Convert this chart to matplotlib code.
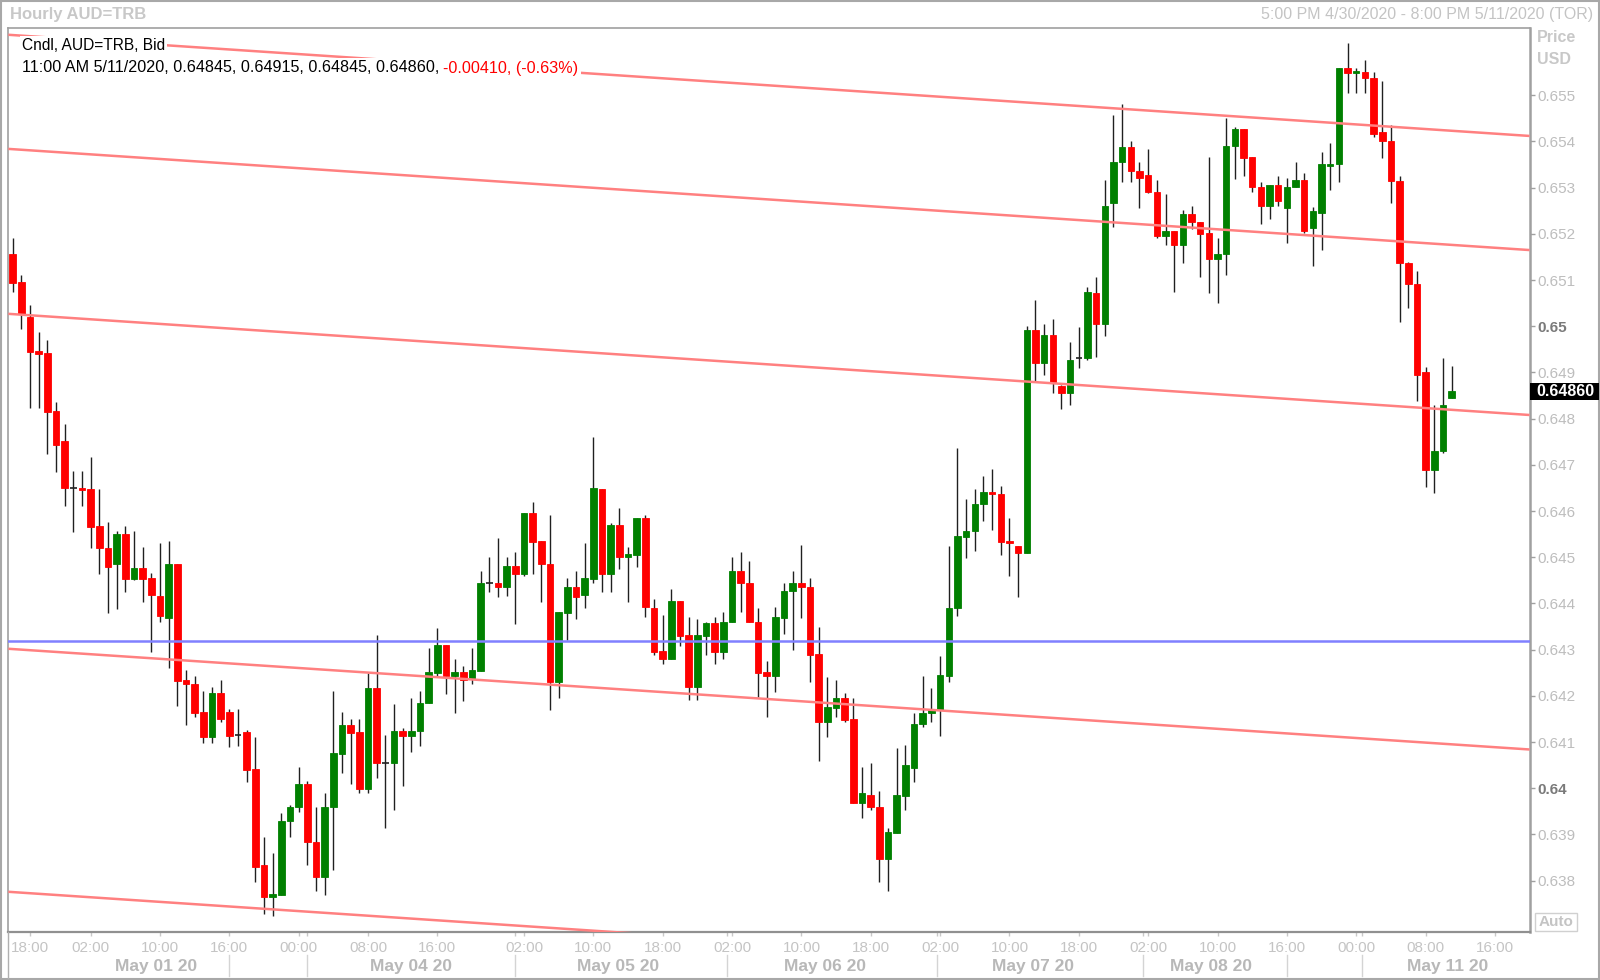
#!/usr/bin/env python3
# -*- coding: utf-8 -*-

"""Hourly AUD=TRB candlestick chart with channel lines (Reuters style)."""

import matplotlib
matplotlib.use("Agg")
import matplotlib.pyplot as plt
from matplotlib.patches import Rectangle
from matplotlib.transforms import blended_transform_factory

plt.rcParams["font.family"] = ["Liberation Sans", "DejaVu Sans"]

# ============================
# Data (hourly bars, index 0 = first bar on screen)
# ============================
OPENS = [
    0.65156, 0.65096, 0.65020, 0.64946, 0.64942, 0.64816, 0.64752, 0.64651, 0.64651, 0.64647,
    0.64567, 0.64521, 0.64485, 0.64551, 0.64454, 0.64476, 0.64455, 0.64416, 0.64369, 0.64486,
    0.64234, 0.64226, 0.64165, 0.64110, 0.64206, 0.64165, 0.64115, 0.64121, 0.64041, 0.63834,
    0.63764, 0.63769, 0.63929, 0.63959, 0.64009, 0.63884, 0.63809, 0.63959, 0.64074, 0.64136,
    0.64121, 0.63998, 0.64217, 0.64055, 0.64054, 0.64125, 0.64114, 0.64123, 0.64184, 0.64249,
    0.64310, 0.64242, 0.64251, 0.64238, 0.64254, 0.64444, 0.64444, 0.64435, 0.64481, 0.64464,
    0.64595, 0.64536, 0.64486, 0.64229, 0.64380, 0.64436, 0.64418, 0.64453, 0.64647, 0.64464,
    0.64570, 0.64500, 0.64505, 0.64584, 0.64391, 0.64297, 0.64279, 0.64405, 0.64332, 0.64219,
    0.64330, 0.64357, 0.64296, 0.64359, 0.64471, 0.64445, 0.64361, 0.64251, 0.64244, 0.64369,
    0.64426, 0.64445, 0.64436, 0.64290, 0.64144, 0.64173, 0.64195, 0.64150, 0.63969, 0.63986,
    0.63960, 0.63847, 0.63903, 0.63983, 0.64043, 0.64139, 0.64164, 0.64170, 0.64244, 0.64390,
    0.64545, 0.64556, 0.64615, 0.64641, 0.64637, 0.64536, 0.64525, 0.64510, 0.64992, 0.64920,
    0.64981, 0.64871, 0.64856, 0.64931, 0.64931, 0.65071, 0.65004, 0.65266, 0.65355, 0.65387,
    0.65337, 0.65328, 0.65291, 0.65196, 0.65207, 0.65176, 0.65242, 0.65225, 0.65201, 0.65145,
    0.65156, 0.65390, 0.65426, 0.65366, 0.65302, 0.65260, 0.65306, 0.65255, 0.65301, 0.65317,
    0.65212, 0.65246, 0.65347, 0.65351, 0.65559, 0.65548, 0.65551, 0.65537, 0.65421, 0.65401,
    0.65315, 0.65136, 0.65092, 0.64900, 0.64689, 0.64730, 0.64845,
]
HIGHS = [
    0.65191, 0.65111, 0.65047, 0.64988, 0.64971, 0.64837, 0.64788, 0.64686, 0.64686, 0.64717,
    0.64647, 0.64576, 0.64556, 0.64567, 0.64556, 0.64522, 0.64466, 0.64532, 0.64536, 0.64486,
    0.64255, 0.64242, 0.64211, 0.64220, 0.64234, 0.64171, 0.64171, 0.64126, 0.64110, 0.63894,
    0.63859, 0.63946, 0.63964, 0.64046, 0.64016, 0.63960, 0.63989, 0.64211, 0.64165, 0.64150,
    0.64150, 0.64249, 0.64332, 0.64115, 0.64182, 0.64130, 0.64195, 0.64211, 0.64304, 0.64346,
    0.64310, 0.64280, 0.64265, 0.64304, 0.64471, 0.64501, 0.64542, 0.64501, 0.64511, 0.64595,
    0.64620, 0.64536, 0.64592, 0.64382, 0.64455, 0.64471, 0.64532, 0.64761, 0.64647, 0.64575,
    0.64606, 0.64522, 0.64584, 0.64592, 0.64409, 0.64375, 0.64431, 0.64405, 0.64371, 0.64367,
    0.64359, 0.64371, 0.64381, 0.64501, 0.64511, 0.64491, 0.64391, 0.64276, 0.64392, 0.64445,
    0.64471, 0.64527, 0.64455, 0.64350, 0.64240, 0.64234, 0.64206, 0.64195, 0.64046, 0.64055,
    0.63995, 0.63913, 0.64087, 0.64094, 0.64164, 0.64242, 0.64217, 0.64286, 0.64525, 0.64736,
    0.64626, 0.64647, 0.64676, 0.64691, 0.64655, 0.64584, 0.64525, 0.65001, 0.65057, 0.65006,
    0.65016, 0.64873, 0.64967, 0.64998, 0.65084, 0.65106, 0.65317, 0.65457, 0.65481, 0.65401,
    0.65356, 0.65383, 0.65317, 0.65286, 0.65207, 0.65252, 0.65261, 0.65226, 0.65366, 0.65191,
    0.65450, 0.65432, 0.65426, 0.65366, 0.65312, 0.65306, 0.65326, 0.65320, 0.65356, 0.65331,
    0.65258, 0.65377, 0.65397, 0.65559, 0.65613, 0.65559, 0.65576, 0.65551, 0.65532, 0.65436,
    0.65326, 0.65140, 0.65120, 0.64911, 0.64830, 0.64931, 0.64915,
]
LOWS = [
    0.65074, 0.64995, 0.64824, 0.64824, 0.64723, 0.64684, 0.64610, 0.64554, 0.64610, 0.64520,
    0.64464, 0.64379, 0.64389, 0.64425, 0.64451, 0.64404, 0.64295, 0.64360, 0.64260, 0.64179,
    0.64138, 0.64155, 0.64099, 0.64099, 0.64144, 0.64089, 0.64092, 0.64014, 0.63798, 0.63728,
    0.63724, 0.63769, 0.63894, 0.63949, 0.63833, 0.63778, 0.63769, 0.63823, 0.64034, 0.64009,
    0.63989, 0.63989, 0.64023, 0.63913, 0.63953, 0.64004, 0.64078, 0.64092, 0.64184, 0.64243,
    0.64204, 0.64162, 0.64190, 0.64225, 0.64254, 0.64424, 0.64415, 0.64417, 0.64355, 0.64460,
    0.64464, 0.64404, 0.64170, 0.64195, 0.64321, 0.64366, 0.64390, 0.64444, 0.64424, 0.64424,
    0.64474, 0.64404, 0.64478, 0.64370, 0.64289, 0.64268, 0.64279, 0.64309, 0.64191, 0.64191,
    0.64289, 0.64268, 0.64279, 0.64359, 0.64382, 0.64359, 0.64197, 0.64155, 0.64208, 0.64333,
    0.64299, 0.64369, 0.64230, 0.64058, 0.64110, 0.64155, 0.64144, 0.63969, 0.63935, 0.63953,
    0.63798, 0.63778, 0.63903, 0.63952, 0.64014, 0.64133, 0.64144, 0.64113, 0.64229, 0.64374,
    0.64499, 0.64514, 0.64579, 0.64559, 0.64505, 0.64460, 0.64415, 0.64510, 0.64882, 0.64895,
    0.64856, 0.64820, 0.64830, 0.64909, 0.64926, 0.64934, 0.64980, 0.65214, 0.65312, 0.65312,
    0.65255, 0.65288, 0.65191, 0.65176, 0.65075, 0.65136, 0.65210, 0.65106, 0.65071, 0.65050,
    0.65110, 0.65318, 0.65326, 0.65291, 0.65222, 0.65232, 0.65260, 0.65180, 0.65301, 0.65201,
    0.65131, 0.65165, 0.65295, 0.65312, 0.65504, 0.65504, 0.65504, 0.65410, 0.65365, 0.65266,
    0.65010, 0.65039, 0.64839, 0.64653, 0.64639, 0.64725, 0.64845,
]
CLOSES = [
    0.65094, 0.65027, 0.64945, 0.64941, 0.64814, 0.64744, 0.64650, 0.64651, 0.64645, 0.64565,
    0.64520, 0.64479, 0.64551, 0.64454, 0.64476, 0.64454, 0.64419, 0.64373, 0.64486, 0.64233,
    0.64225, 0.64164, 0.64110, 0.64206, 0.64149, 0.64113, 0.64115, 0.64040, 0.63829, 0.63764,
    0.63771, 0.63929, 0.63960, 0.64009, 0.63883, 0.63809, 0.63960, 0.64076, 0.64136, 0.64120,
    0.63998, 0.64217, 0.64054, 0.64055, 0.64125, 0.64114, 0.64125, 0.64184, 0.64251, 0.64310,
    0.64243, 0.64251, 0.64234, 0.64256, 0.64444, 0.64444, 0.64435, 0.64481, 0.64464, 0.64595,
    0.64534, 0.64486, 0.64229, 0.64382, 0.64436, 0.64415, 0.64455, 0.64651, 0.64464, 0.64570,
    0.64500, 0.64507, 0.64584, 0.64393, 0.64296, 0.64279, 0.64405, 0.64330, 0.64219, 0.64332,
    0.64357, 0.64296, 0.64361, 0.64471, 0.64444, 0.64359, 0.64249, 0.64244, 0.64370, 0.64427,
    0.64445, 0.64436, 0.64289, 0.64144, 0.64175, 0.64195, 0.64148, 0.63969, 0.63989, 0.63959,
    0.63847, 0.63905, 0.63986, 0.64051, 0.64139, 0.64164, 0.64170, 0.64245, 0.64391, 0.64546,
    0.64557, 0.64615, 0.64641, 0.64636, 0.64534, 0.64530, 0.64510, 0.64992, 0.64920, 0.64981,
    0.64879, 0.64856, 0.64927, 0.64931, 0.65075, 0.65004, 0.65261, 0.65356, 0.65387, 0.65336,
    0.65320, 0.65291, 0.65196, 0.65207, 0.65176, 0.65242, 0.65225, 0.65200, 0.65145, 0.65156,
    0.65390, 0.65426, 0.65365, 0.65302, 0.65260, 0.65306, 0.65271, 0.65302, 0.65317, 0.65207,
    0.65250, 0.65351, 0.65351, 0.65559, 0.65548, 0.65551, 0.65537, 0.65416, 0.65400, 0.65315,
    0.65136, 0.65091, 0.64895, 0.64689, 0.64731, 0.64830, 0.64860,
]
PREV_CLOSE = 0.65270  # reference close for the change figure in the legend

# Channel lines (start/end price) over bar index CHANNEL_X
CHANNEL_X = [-0.5, 175.0]
CHANNEL_LINES = [
    (0.65631, 0.65412),
    (0.65384, 0.65165),
    (0.65027, 0.64808),
    (0.64302, 0.64084),
    (0.63776, 0.63557),
]
HLINE_LEVEL = 0.64319

# X axis labels
TICK_POS = [2, 9, 17, 25, 33, 41, 49, 59, 67, 75, 83, 91, 99, 107, 115, 123, 131, 139, 147, 155, 163, 171]
TICK_LABELS = ["18:00", "02:00", "10:00", "16:00", "00:00", "08:00", "16:00", "02:00", "10:00", "18:00",
               "02:00", "10:00", "18:00", "02:00", "10:00", "18:00", "02:00", "10:00", "16:00", "00:00",
               "08:00", "16:00"]
DAY_LABELS = ["May 01 20", "May 04 20", "May 05 20", "May 06 20", "May 07 20", "May 08 20", "May 11 20"]
DAY_LABEL_POS = [16.5, 45.9, 69.8, 93.7, 117.7, 138.3, 165.5]
DAY_SEPS = [25, 34, 58, 82.4, 106.6, 130.4, 147, 155.7]

YTICKS = [0.638, 0.639, 0.640, 0.641, 0.642, 0.643, 0.644, 0.645, 0.646,
          0.647, 0.648, 0.649, 0.650, 0.651, 0.652, 0.653, 0.654, 0.655]

# ============================
# Layout / style
# ============================
W, H = 1600, 980
PLOT_L, PLOT_R, PLOT_T, PLOT_B = 8.3, 1530, 28.3, 932.3
XLIM = (-0.5, 175.05)
YLIM = (0.636883, 0.656450)

UP_COLOR = "#008000"
DOWN_COLOR = "#ff0000"
CHANNEL_COLOR = "#ff8080"
HLINE_COLOR = "#8080ff"


def fx(px):
    return px / W


def fy(py):
    return 1 - py / H


def draw_candles(ax):
    body_w = 0.76
    min_h = 0.00004
    for i, (o, h, l, c) in enumerate(zip(OPENS, HIGHS, LOWS, CLOSES)):
        ax.vlines(i, l, h, color="#202020", linewidth=1.0, zorder=2)
        if c == o:
            ax.hlines(o, i - body_w / 2, i + body_w / 2, color="#202020", linewidth=1.2, zorder=3)
            continue
        col = UP_COLOR if c > o else DOWN_COLOR
        bottom = min(o, c)
        height = max(abs(c - o), min_h)
        ax.bar(i, height, bottom=bottom, width=body_w, color=col,
               edgecolor=col, linewidth=0.6, zorder=3)


def main():
    fig = plt.figure(figsize=(W / 100, H / 100), dpi=100)
    fig.patch.set_facecolor("white")
    ax = fig.add_axes([fx(PLOT_L), fy(PLOT_B), fx(PLOT_R - PLOT_L), (PLOT_B - PLOT_T) / H])

    draw_candles(ax)

    for start, end in CHANNEL_LINES:
        ax.plot(CHANNEL_X, [start, end], color=CHANNEL_COLOR, linewidth=1.8, zorder=4,
                solid_capstyle="butt")
    ax.axhline(HLINE_LEVEL, color=HLINE_COLOR, linewidth=1.8, zorder=4)

    ax.set_xlim(*XLIM)
    ax.set_ylim(*YLIM)

    for side, sp in ax.spines.items():
        sp.set_color("#a0a0a0")
        sp.set_linewidth(1.2)
    ax.spines["right"].set_linewidth(1.8)
    ax.spines["bottom"].set_color("#909090")
    ax.spines["bottom"].set_linewidth(1.6)

    # y axis on the right
    ax.yaxis.tick_right()
    ax.set_yticks(YTICKS)
    ylabels = [f"{v:.3f}".rstrip("0") for v in YTICKS]
    ax.set_yticklabels(ylabels)
    ax.tick_params(axis="y", direction="out", length=3.6, width=1, color="#a0a0a0",
                   pad=1.5, labelsize=11, labelcolor="#bdbdbd")
    for lab in ax.get_yticklabels():
        if lab.get_text() in ("0.65", "0.64"):
            lab.set_fontweight("bold")
            lab.set_color("#7a7a7a")

    # x axis: hour labels + day separators
    ax.set_xticks(TICK_POS)
    ax.set_xticklabels(TICK_LABELS)
    ax.set_xticks(DAY_SEPS, minor=True)
    ax.tick_params(axis="x", which="both", direction="out", length=3, width=1,
                   color="#c8c8c8", pad=3, labelsize=11, labelcolor="#c4c4c4")

    trans = blended_transform_factory(ax.transData, fig.transFigure)
    for pos, lab in zip(DAY_LABEL_POS, DAY_LABELS):
        ax.text(pos, fy(966), lab, transform=trans, ha="center", va="center",
                fontsize=12.5, fontweight="bold", color="#b8b8b8", clip_on=False)
    for pos in DAY_SEPS:
        ax.plot([pos, pos], [fy(955), fy(976)], transform=trans, color="#d4d4d4",
                linewidth=1, clip_on=False)

    # header
    fig.text(fx(10), fy(15), "Hourly AUD=TRB", ha="left", va="center", fontsize=12,
             fontweight="bold", color="#c8c8c8")
    fig.text(fx(1593), fy(15), "5:00 PM 4/30/2020 - 8:00 PM 5/11/2020 (TOR)", ha="right",
             va="center", fontsize=11.5, color="#c4c4c4")
    fig.text(fx(1537), fy(38), "Price", ha="left", va="center", fontsize=11.5,
             fontweight="bold", color="#c8c8c8")
    fig.text(fx(1537), fy(60), "USD", ha="left", va="center", fontsize=11.5,
             fontweight="bold", color="#c8c8c8")

    # legend rows (white background hides the channel line behind them)
    box = dict(boxstyle="square,pad=0.15", facecolor="white", edgecolor="none")
    fig.text(fx(22), fy(46), "Cndl, AUD=TRB, Bid", ha="left", va="center", fontsize=11.2,
             color="black", bbox=box, zorder=5)
    o, h, l, c = OPENS[-1], HIGHS[-1], LOWS[-1], CLOSES[-1]
    chg = c - PREV_CLOSE
    pct = chg / PREV_CLOSE * 100
    t1 = fig.text(fx(22), fy(68), f"11:00 AM 5/11/2020, {o:.5f}, {h:.5f}, {l:.5f}, {c:.5f},",
                  ha="left", va="center", fontsize=11.6, color="black", bbox=box, zorder=5)
    fig.canvas.draw()
    ext = t1.get_window_extent(fig.canvas.get_renderer())
    fig.text((ext.x1 + 4) / W, fy(68), f"{chg:.5f}, ({pct:.2f}%)", ha="left", va="center",
             fontsize=11.6, color="#ff0000", bbox=box, zorder=5)

    # last price box
    fig.add_artist(Rectangle((fx(1530), fy(400)), fx(69), 16.7 / H, transform=fig.transFigure,
                             facecolor="black", edgecolor="none", zorder=5))
    fig.text(fx(1565), fy(391.7), f"{c:.5f}", ha="center", va="center", fontsize=11.5,
             fontweight="bold", color="white", zorder=6)

    # "Auto" box
    fig.add_artist(Rectangle((fx(1535), fy(931)), fx(42), 18 / H, transform=fig.transFigure,
                             facecolor="white", edgecolor="#d0d0d0", linewidth=1, zorder=5))
    fig.text(fx(1556), fy(922), "Auto", ha="center", va="center", fontsize=11,
             fontweight="bold", color="#c4c4c4", zorder=6)

    # outer frame
    fig.add_artist(Rectangle((0.0005, 0.001), 0.999, 0.998, transform=fig.transFigure,
                             fill=False, edgecolor="#a8a8a8", linewidth=1.5))
    fig.add_artist(plt.Line2D([fx(PLOT_L), fx(PLOT_L)], [fy(PLOT_B), fy(978)],
                              transform=fig.transFigure, color="#b0b0b0", linewidth=1))

    fig.savefig("out.png", dpi=100, facecolor="white")
    plt.close(fig)


if __name__ == "__main__":
    main()
